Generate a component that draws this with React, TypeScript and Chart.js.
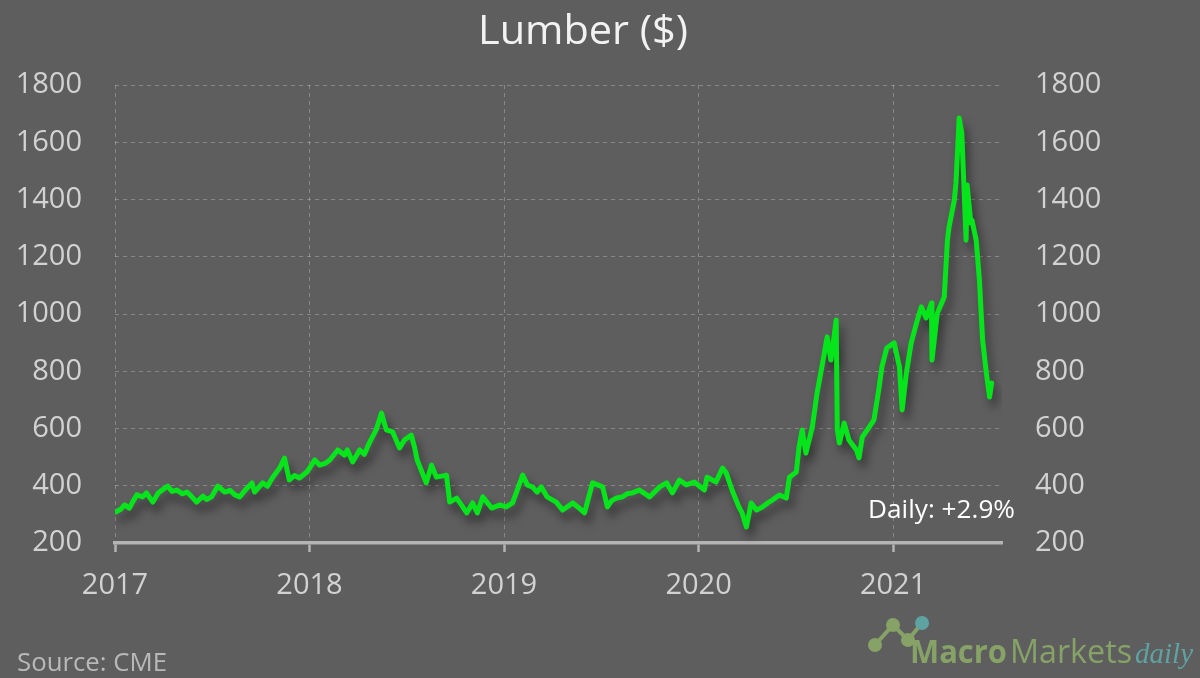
import React, { useEffect, useRef } from 'react';
import { Chart, registerables } from 'chart.js';

Chart.register(...registerables);

const titleText = 'Lumber ($)';
const sourceText = 'Source: CME';
const dailyNote = 'Daily: +2.9%';

const yearTicks = [2017, 2018, 2019, 2020, 2021];
const yTicks = [200, 400, 600, 800, 1000, 1200, 1400, 1600, 1800];

const dates = [
  '2017-01-03', '2017-01-12', '2017-01-19', '2017-01-28', '2017-02-05', '2017-02-11', '2017-02-22', '2017-03-01', '2017-03-13',
  '2017-03-23', '2017-04-03', '2017-04-10', '2017-04-18', '2017-04-27', '2017-05-08', '2017-05-16', '2017-05-25', '2017-06-03', '2017-06-15', '2017-06-22', '2017-07-01', '2017-07-13',
  '2017-07-26', '2017-08-05', '2017-08-14', '2017-08-23', '2017-09-04', '2017-09-15', '2017-09-20', '2017-10-05', '2017-10-14', '2017-10-24', '2017-11-06',
  '2017-11-15', '2017-11-24', '2017-12-04', '2017-12-13', '2017-12-27',
  '2018-01-11', '2018-01-20', '2018-01-30', '2018-02-08', '2018-02-23', '2018-03-08', '2018-03-13', '2018-03-23', '2018-04-05',
  '2018-04-14', '2018-04-23', '2018-05-06', '2018-05-16', '2018-05-25', '2018-06-06', '2018-06-19', '2018-06-28', '2018-07-11',
  '2018-07-17', '2018-07-22', '2018-08-08', '2018-08-18', '2018-08-27', '2018-09-15', '2018-09-21', '2018-10-04',
  '2018-10-13', '2018-10-23', '2018-11-03', '2018-11-12', '2018-11-22', '2018-12-01', '2018-12-09', '2018-12-24',
  '2019-01-05', '2019-01-17', '2019-02-05', '2019-02-14', '2019-02-23', '2019-03-04', '2019-03-12', '2019-03-23', '2019-04-09', '2019-04-21',
  '2019-05-10', '2019-05-20', '2019-06-01', '2019-06-16', '2019-07-05', '2019-07-14', '2019-07-22', '2019-07-31', '2019-08-11', '2019-08-20', '2019-08-30',
  '2019-09-12', '2019-10-01', '2019-10-20', '2019-11-02', '2019-11-13', '2019-11-26', '2019-12-09', '2019-12-24',
  '2020-01-12', '2020-01-17', '2020-02-03', '2020-02-15', '2020-02-22', '2020-03-04', '2020-03-17', '2020-03-23',
  '2020-03-31', '2020-04-09', '2020-04-19', '2020-04-30', '2020-05-10', '2020-05-19', '2020-06-01', '2020-06-14', '2020-06-20',
  '2020-07-03', '2020-07-08', '2020-07-14', '2020-07-21', '2020-08-02', '2020-08-11', '2020-08-20', '2020-08-30',
  '2020-09-06', '2020-09-16', '2020-09-18', '2020-09-22', '2020-10-01', '2020-10-10', '2020-10-24', '2020-10-29',
  '2020-11-04', '2020-11-17', '2020-11-26', '2020-12-05', '2020-12-11', '2020-12-20',
  '2021-01-03', '2021-01-13', '2021-01-18', '2021-01-26', '2021-02-04', '2021-02-14', '2021-02-23', '2021-03-04',
  '2021-03-14', '2021-03-15', '2021-03-25', '2021-04-07', '2021-04-13', '2021-04-16', '2021-04-26', '2021-04-29',
  '2021-05-05', '2021-05-10', '2021-05-18', '2021-05-20', '2021-05-27', '2021-05-29', '2021-06-06', '2021-06-12',
  '2021-06-18', '2021-06-25', '2021-07-01', '2021-07-05',
];

const prices = [
  309, 318, 333, 322, 350, 368, 361, 375, 343,
  375, 390, 399, 380, 385, 372, 378, 362, 343, 364, 352, 361, 399,
  378, 384, 368, 361, 388, 410, 378, 410, 398, 430, 462,
  497, 420, 436, 427, 448,
  490, 472, 478, 490, 525, 507, 525, 483, 525,
  510, 549, 595, 654, 595, 588, 532, 560, 577,
  535, 490, 410, 472, 430, 437, 343, 357,
  333, 305, 340, 305, 361, 340, 322, 333,
  326, 340, 437, 402, 396, 378, 396, 361, 343, 315,
  340, 325, 305, 410, 396, 326, 348, 357, 361, 372, 375,
  385, 361, 396, 410, 375, 420, 403, 413,
  385, 430, 413, 462, 445, 385, 326, 305,
  256, 340, 315, 326, 340, 350, 368, 357, 430,
  448, 535, 595, 514, 605, 724, 815, 920,
  839, 979, 595, 549, 619, 560, 525, 497,
  570, 605, 630, 735, 815, 881,
  899, 815, 665, 794, 899, 969, 1025, 986,
  1038, 839, 1003, 1059, 1258, 1304, 1398, 1457,
  1685, 1632, 1258, 1451, 1318, 1328, 1258, 1119,
  909, 794, 710, 759,
];

const xMin = 2017;
const xMax = 2021.56;

function toYear(s: string): number {
  const [y, m, d] = s.split('-').map(Number);
  const start = Date.UTC(y, 0, 1);
  const end = Date.UTC(y + 1, 0, 1);
  return y + (Date.UTC(y, m - 1, d) - start) / (end - start);
}

const BG = '#5e5e5e';
const LINE = '#06e51c';
const GRID = 'rgba(255,255,255,0.26)';
const TICK_COLOR = '#d2d2d2';
const LOGO_GREEN = '#86a267';
const LOGO_TEAL = '#5fa2a2';

function fitText(ctx: CanvasRenderingContext2D, text: string, x: number, y: number, w: number) {
  const mw = ctx.measureText(text).width;
  ctx.save();
  ctx.translate(x, y);
  ctx.scale(w / mw, 1);
  ctx.fillText(text, 0, 0);
  ctx.restore();
}

const decorPlugin = {
  id: 'decor',
  beforeDraw(chart: any) {
    const ctx = chart.ctx as CanvasRenderingContext2D;
    ctx.save();
    ctx.fillStyle = BG;
    ctx.fillRect(0, 0, chart.width, chart.height);
    ctx.restore();
  },
  beforeDatasetDraw(chart: any) {
    const ctx = chart.ctx as CanvasRenderingContext2D;
    ctx.save();
    ctx.shadowColor = 'rgba(0,0,0,0.45)';
    ctx.shadowBlur = 10;
    ctx.shadowOffsetX = 4;
    ctx.shadowOffsetY = 8;
  },
  afterDatasetDraw(chart: any) {
    chart.ctx.restore();
  },
  afterDraw(chart: any) {
    const ctx = chart.ctx as CanvasRenderingContext2D;
    ctx.save();
    // Title
    ctx.fillStyle = '#f2f2f2';
    ctx.font = '40px "Open Sans"';
    ctx.textAlign = 'left';
    ctx.textBaseline = 'alphabetic';
    fitText(ctx, titleText, 478, 44, 210);
    // Daily note
    ctx.fillStyle = '#ffffff';
    ctx.font = '25px "Open Sans"';
    fitText(ctx, dailyNote, 868, 518, 147);
    // Source
    ctx.fillStyle = '#b9b9b9';
    ctx.font = '25px "Open Sans"';
    fitText(ctx, sourceText, 17, 671, 150);
    // Logo icon
    ctx.strokeStyle = LOGO_GREEN;
    ctx.lineWidth = 4;
    ctx.beginPath();
    ctx.moveTo(875, 645);
    ctx.lineTo(893, 625);
    ctx.lineTo(908, 640);
    ctx.lineTo(922, 623);
    ctx.stroke();
    const dots: [number, number, string][] = [
      [875, 645, LOGO_GREEN], [893, 625, LOGO_GREEN], [908, 640, LOGO_GREEN], [922, 623, LOGO_TEAL],
    ];
    dots.forEach(([cx, cy, c]) => {
      ctx.fillStyle = c;
      ctx.beginPath();
      ctx.arc(cx, cy, 7, 0, Math.PI * 2);
      ctx.fill();
    });
    // Logo text
    ctx.fillStyle = LOGO_GREEN;
    ctx.font = 'bold 32px "Open Sans"';
    fitText(ctx, 'Macro', 910, 663, 97);
    ctx.font = '32px "Open Sans"';
    fitText(ctx, 'Markets', 1010, 663, 122);
    ctx.fillStyle = LOGO_TEAL;
    ctx.font = 'italic 30px "Liberation Serif"';
    fitText(ctx, 'daily', 1135, 663, 58);
    ctx.restore();
  },
};

export default function App() {
  const ref = useRef<HTMLCanvasElement | null>(null);

  useEffect(() => {
    document.body.style.margin = '0';
    document.body.style.background = BG;
    const canvas = ref.current;
    if (!canvas) return;
    const points = dates.map((d, i) => ({ x: toYear(d), y: prices[i] }));
    const tickFont = { family: '"Open Sans"', size: 29 };
    const plain = (v: any) => String(v);
    const chart = new Chart(canvas, {
      type: 'line',
      data: {
        datasets: [
          {
            data: points,
            borderColor: LINE,
            borderWidth: 5,
            pointRadius: 0,
            tension: 0,
            borderJoinStyle: 'round',
            borderCapStyle: 'round',
            yAxisID: 'y',
          },
        ],
      },
      options: {
        animation: false,
        responsive: false,
        devicePixelRatio: 1,
        layout: { padding: { top: 85, left: 0, right: 0, bottom: 0 } },
        plugins: {
          legend: { display: false },
          title: { display: false },
          tooltip: { enabled: false },
        },
        scales: {
          x: {
            type: 'linear',
            min: xMin,
            max: xMax,
            afterBuildTicks: (scale: any) => {
              scale.ticks = yearTicks.map((v) => ({ value: v }));
            },
            afterFit: (scale: any) => {
              scale.height = 135;
            },
            ticks: {
              color: TICK_COLOR,
              font: tickFont,
              padding: 16,
              maxRotation: 0,
              autoSkip: false,
              callback: plain,
            },
            grid: {
              color: GRID,
              lineWidth: 1,
              drawTicks: true,
              tickLength: 9,
              tickColor: '#b4b4b4',
              tickWidth: 2.5,
              tickBorderDash: [],
            },
            border: { display: true, color: '#b4b4b4', width: 3.5, dash: [4, 4] },
          },
          y: {
            type: 'linear',
            position: 'left',
            min: 200,
            max: 1800,
            afterBuildTicks: (scale: any) => {
              scale.ticks = yTicks.map((v) => ({ value: v }));
            },
            afterFit: (scale: any) => {
              scale.width = 115;
            },
            ticks: { color: TICK_COLOR, font: tickFont, padding: 33, callback: plain },
            grid: { color: GRID, lineWidth: 1, drawTicks: false },
            border: { display: false, dash: [4, 4] },
          },
          y2: {
            type: 'linear',
            position: 'right',
            min: 200,
            max: 1800,
            afterBuildTicks: (scale: any) => {
              scale.ticks = yTicks.map((v) => ({ value: v }));
            },
            afterFit: (scale: any) => {
              scale.width = 198;
            },
            ticks: { color: TICK_COLOR, font: tickFont, padding: 33, callback: plain },
            grid: { display: false, drawOnChartArea: false, drawTicks: false },
            border: { display: false },
          },
        },
      },
      plugins: [decorPlugin],
    } as any);
    return () => chart.destroy();
  }, []);

  return (
    <div style={{ width: 1200, height: 678, background: BG }}>
      <canvas ref={ref} width={1200} height={678} style={{ display: 'block', width: 1200, height: 678 }} />
    </div>
  );
}
